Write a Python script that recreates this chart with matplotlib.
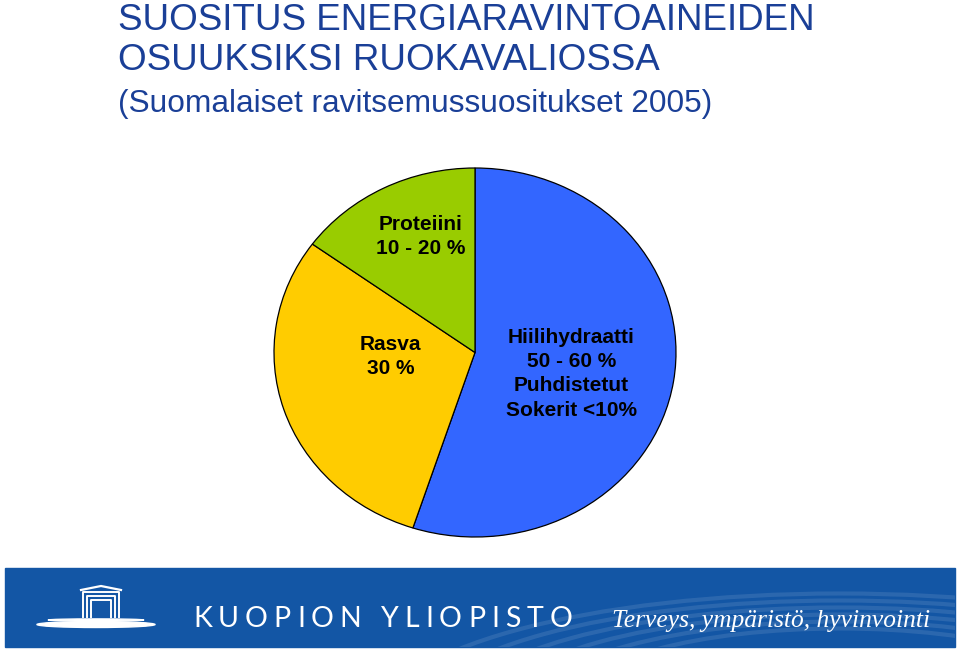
import matplotlib.pyplot as plt
from matplotlib.patches import Rectangle, Ellipse, Arc

# data
labels = ["Hiilihydraatti\n50 - 60 %\nPuhdistetut\nSokerit <10%", "Rasva\n30 %", "Proteiini\n10 - 20 %"]
shares = [55, 30, 15]
colors = ["#3366FF", "#FFCC00", "#99CC00"]
label_pos = [(0.48, -0.115), (-0.42, -0.02), (-0.27, 0.63)]

title_lines = ["SUOSITUS ENERGIARAVINTOAINEIDEN", "OSUUKSIKSI RUOKAVALIOSSA",
               "(Suomalaiset ravitsemussuositukset 2005)"]
uni_name = "KUOPION YLIOPISTO"
slogan = "Terveys, ympäristö, hyvinvointi"

W, H = 959, 650
fig = plt.figure(figsize=(W / 100, H / 100), dpi=100)
title_col = "#1A3F97"
banner_col = "#1356A5"

# title
for line, base, fs in zip(title_lines, [30, 70, 112], [26.5, 26.5, 22.8]):
    fig.text(118 / W, 1 - base / H, line, fontsize=fs, color=title_col,
             family="Liberation Sans", va="baseline", ha="left")

# pie (slightly elliptical, as in the original)
ax = fig.add_axes([274 / W, (H - 537) / H, 402 / W, 369 / H])
wedges, _ = ax.pie(shares, colors=colors, startangle=90, counterclock=False,
                   wedgeprops=dict(edgecolor="black", linewidth=0.9))
for w in wedges:
    w.set_clip_on(False)
ax.set_aspect("auto")
ax.set_xlim(-1, 1)
ax.set_ylim(-1, 1)
ax.axis("off")
for txt, (x, y) in zip(labels, label_pos):
    ax.text(x, y, txt, ha="center", va="center", fontsize=15, fontweight="bold",
            family="Liberation Sans", linespacing=1.35)

# banner in pixel coords
bx = fig.add_axes([0, 0, 1, 1], zorder=-1)
bx.set_xlim(0, W)
bx.set_ylim(H, 0)
bx.axis("off")
band = Rectangle((5, 568), 950, 79, color=banner_col)
bx.add_patch(band)
for i, r in enumerate([260, 300, 340, 380, 420, 460]):
    a = Arc((840, 700 + i * 4), 2 * r, r * 0.55, theta1=180, theta2=360,
            color="white", alpha=0.10, lw=3)
    bx.add_patch(a)
    a.set_clip_path(band)

# logo
bx.add_patch(Ellipse((96, 624.5), 118, 6, color="white"))
bx.add_patch(Ellipse((96, 620), 96, 2.2, color="white"))
for off in [0, 4, 8]:
    x0, x1, ytop = 83 + off, 119 - off, 592 + off
    bx.plot([x0, x0, x1, x1], [617, ytop, ytop, 617], color="white", lw=1.4)
bx.plot([81, 101, 121], [590, 586, 590], color="white", lw=1.6)

# university name with letter spacing
fig.canvas.draw()
rend = fig.canvas.get_renderer()
x = 193
for ch in uni_name:
    t = bx.text(x, 627, ch, color="white", fontsize=20.5, family="Lato",
                fontweight="normal", va="baseline", ha="left")
    wpx = t.get_window_extent(rend).width
    x += wpx + 6.0

bx.text(612, 627, slogan, color="white", fontsize=18.4, family="Liberation Serif",
        style="italic", va="baseline", ha="left")

fig.savefig("out.png", dpi=100)
